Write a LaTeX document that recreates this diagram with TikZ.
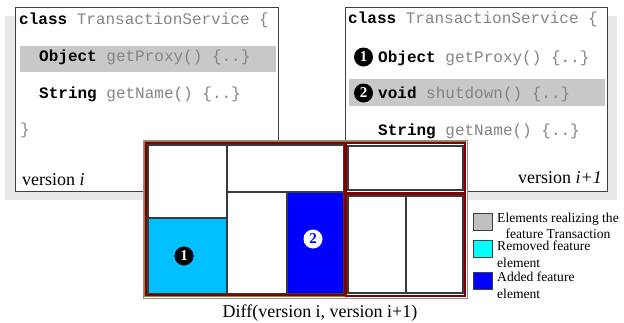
\documentclass[tikz,border=0pt]{standalone}
\usepackage{fontspec}
\setmainfont{Liberation Serif}
\setmonofont{Liberation Mono}
\definecolor{shadowgray}{HTML}{E8E8E8}
\definecolor{boxline}{HTML}{404040}
\definecolor{hlgray}{HTML}{C8C8C8}
\definecolor{codegray}{HTML}{858585}
\definecolor{frameolive}{RGB}{150,130,60}
\definecolor{framegray}{HTML}{909090}
\definecolor{groupred}{RGB}{128,0,0}
\definecolor{cellline}{HTML}{3A3A3A}
\definecolor{removedcell}{RGB}{0,192,255}
\definecolor{removedkey}{RGB}{0,255,255}
\definecolor{addedblue}{RGB}{0,0,255}
\definecolor{keygray}{HTML}{C0C0C0}
\newcommand{\kw}[1]{\textcolor{black}{\textbf{#1}}}
\begin{document}
\begin{tikzpicture}[x=1pt,y=-1pt,
  rectnode/.style={inner sep=0pt, outer sep=0pt, anchor=north west},
  shadowbox/.style={rectnode, fill=shadowgray},
  codebox/.style={rectnode, draw=boxline, line width=1pt, fill=white},
  hlrow/.style={rectnode, fill=hlgray},
  code/.style={inner sep=0pt, anchor=base west, text=codegray,
    font=\fontsize{16}{16}\selectfont\ttfamily},
  vlabel/.style={inner sep=0pt, font=\fontsize{18}{18}\selectfont},
  numdot/.style={circle, fill=black, text=white, inner sep=0pt,
    minimum size=19pt, font=\fontsize{15}{15}\selectfont\bfseries},
  cell/.style={rectnode, draw=cellline, line width=1.3pt, fill=white},
  group/.style={rectnode, draw=groupred, line width=2pt},
  keybox/.style={rectnode, draw=boxline, line width=0.8pt,
    minimum width=19pt, minimum height=17pt},
  keytext/.style={inner sep=0pt, align=center,
    font=\fontsize{13.6}{15.5}\selectfont},
  keytextl/.style={inner sep=0pt, align=left, anchor=base west,
    font=\fontsize{13.6}{17}\selectfont}]

\useasboundingbox[fill=white] (0,0) rectangle (624,322);

% drop shadows of the two class listings
\node[shadowbox, minimum width=263pt, minimum height=184pt] (lshadow) at (5,16) {};
\node[shadowbox, minimum width=262pt, minimum height=184pt] (rshadow) at (355,16) {};

% class listing, version i
\node[codebox, minimum width=263pt, minimum height=184pt] (lbox) at (15,7) {};
\node[hlrow, minimum width=256pt, minimum height=26pt] (lhl) at (20,46) {};
\node[code] (l1) at (19,24) {\kw{class} TransactionService \{};
\node[code] (l2) at (39,61) {\kw{Object} getProxy() \{..\}};
\node[code] (l3) at (39,98) {\kw{String} getName() \{..\}};
\node[code] (l4) at (20,134) {\}};
\node[vlabel, anchor=base west] (lver) at (22,185) {version \textit{i}};

% class listing, version i+1
\node[codebox, minimum width=262pt, minimum height=184pt] (rbox) at (345,7) {};
\node[hlrow, minimum width=256pt, minimum height=27pt] (rhl) at (349,79) {};
\node[code] (r1) at (348,23) {\kw{class} TransactionService \{};
\node[numdot] (rn1) at (363.5,57) {1};
\node[code] (r2) at (378,62) {\kw{Object} getProxy() \{..\}};
\node[numdot] (rn2) at (363.5,93) {2};
\node[code] (r3) at (378,98) {\kw{void} shutdown() \{..\}};
\node[code] (r4) at (378,135) {\kw{String} getName() \{..\}};
\node[vlabel, anchor=base east] (rver) at (602,183) {version \textit{i+1}};

% diff treemap
\node[rectnode, fill=white, draw=framegray, line width=1pt,
  minimum width=324pt, minimum height=158pt] (diff) at (143,140) {};
\node[rectnode, draw=frameolive, line width=2pt,
  minimum width=320pt, minimum height=154pt] (diffin) at (145,142) {};
\node[cell, minimum width=79pt, minimum height=73pt] (cA) at (148,145) {};
\node[cell, fill=removedcell, minimum width=79pt, minimum height=76pt] (cB) at (148,218) {};
\node[cell, minimum width=117pt, minimum height=47pt] (cC) at (227,145) {};
\node[cell, minimum width=60pt, minimum height=102pt] (cD) at (227,192) {};
\node[cell, fill=addedblue, minimum width=57pt, minimum height=102pt] (cE) at (287,192) {};
\node[cell, minimum width=115pt, minimum height=44pt] (cF) at (348,146) {};
\node[cell, minimum width=58pt, minimum height=97pt] (cG) at (348,196) {};
\node[cell, minimum width=57pt, minimum height=97pt] (cH) at (406,196) {};
\node[group, minimum width=199pt, minimum height=152pt] (gL) at (146,143) {};
\node[group, minimum width=119pt, minimum height=50pt] (gRT) at (346,143) {};
\node[group, minimum width=119pt, minimum height=102pt] (gRB) at (346,194) {};
\node[numdot] (dn1) at (184,256) {1};
\node[numdot, fill=white, text=addedblue] (dn2) at (313,239) {2};

% legend (base anchor of a multi-line node sits on its last line)
\node[keybox, fill=keygray] (k1) at (473,213) {};
\node[keytext, anchor=base] (t1) at (558,238) {Elements realizing the\\feature Transaction};
\node[keybox, fill=removedkey] (k2) at (473,240) {};
\node[keytextl] (t2) at (497,267) {Removed feature\\element};
\node[keybox, fill=addedblue] (k3) at (473,272) {};
\node[keytextl] (t3) at (497,298) {Added feature\\element};

% caption
\node[vlabel, anchor=base] (cap) at (320,317) {Diff(version i, version i+1)};
\end{tikzpicture}
\end{document}
